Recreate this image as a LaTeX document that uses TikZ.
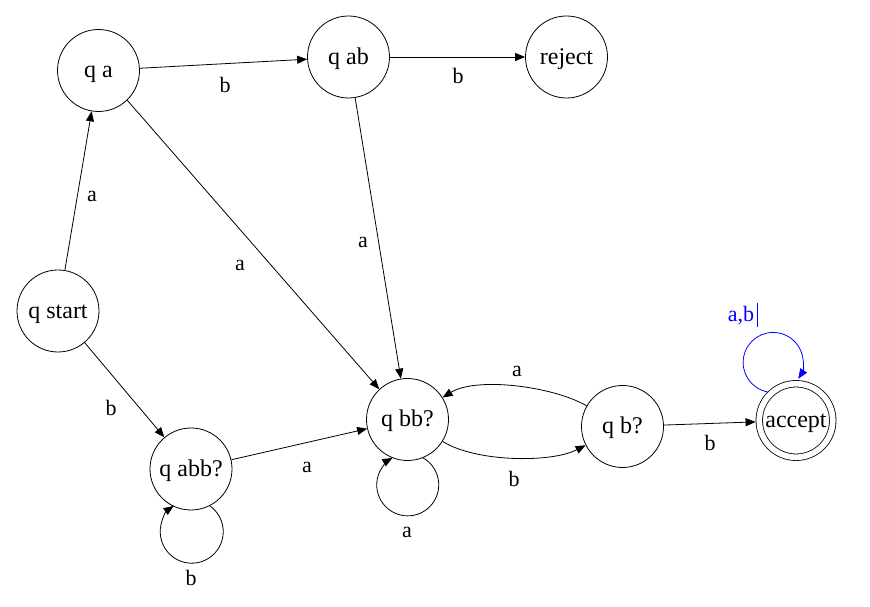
\documentclass[tikz,border=0pt]{standalone}
\usepackage{fontspec}
\setmainfont{Liberation Serif}
\usetikzlibrary{arrows.meta}
\definecolor{loopblue}{RGB}{0,0,255}
\tikzset{
  x=1pt, y=1pt,
  state/.style={draw, circle, line width=0.8pt, minimum size=82pt, inner sep=0pt,
                text height=17pt, text depth=2.5pt,
                font=\fontsize{24}{28}\selectfont},
  accstate/.style={draw, circle, line width=0.8pt, minimum size=73.5pt, inner sep=0pt,
                double, double distance=5.7pt, outer sep=3.7pt,
                text height=17pt, text depth=2.5pt,
                font=\fontsize{24}{28}\selectfont},
  arr/.style={-{Triangle[length=10pt,width=8pt]}, line width=0.8pt},
  lbl/.style={inner sep=0pt, font=\fontsize{22}{26}\selectfont},
}
\begin{document}
\begin{tikzpicture}
\useasboundingbox (0,0) rectangle (870,607);
% states
\node[state] (qa)   at (98.5,536.5) {q a};
\node[state] (qab)  at (348.5,550)  {q ab};
\node[state] (rej)  at (566.5,550)  {reject};
\node[state] (qs)   at (58,296)     {q start};
\node[state] (qabb) at (191,138)    {q abb?};
\node[state] (qbb)  at (407.5,187.5){q bb?};
\node[state] (qb)   at (622.5,180.5){q b?};
\node[accstate] (acc) at (796,186.5) {accept};
% transitions
\draw[arr] (qs) -- (qa);
\draw[arr] (qa) -- (qab);
\draw[arr] (qab) -- (rej);
\draw[arr] (qa.-46) -- (qbb.133);
\draw[arr] (qab) -- (qbb);
\draw[arr] (qs) -- (qabb);
\draw[arr] (qabb) -- (qbb);
\draw[arr] (qbb.-32) to[out=-32, in=-153, looseness=0.7] (qb.-153);
\draw[arr] (qb.150) to[out=150, in=32, looseness=0.7] (qbb.32);
\draw[arr] (qb) -- (acc);
\draw[arr] (qbb.-68) arc[start angle=60.5, end angle=-240.5, radius=31];
\draw[arr] (qabb.-63) arc[start angle=55, end angle=-235, radius=31.5];
\draw[arr, loopblue] (acc.135) arc[start angle=259, end angle=-33, radius=30];
% labels
\node[lbl] (l1)  at (92,411)  {a};
\node[lbl] (l2)  at (225,522) {b};
\node[lbl] (l3)  at (458,531) {b};
\node[lbl] (l4)  at (240,342) {a};
\node[lbl] (l5)  at (363,365) {a};
\node[lbl] (l6)  at (111,199) {b};
\node[lbl] (l7)  at (307,140) {a};
\node[lbl] (l8)  at (514,128) {b};
\node[lbl] (l9)  at (517,236) {a};
\node[lbl] (l10) at (710,164) {b};
\node[lbl] (l11) at (407,75)  {a};
\node[lbl] (l12) at (191,29)  {b};
\node[lbl, text=loopblue] (l13) at (741,291) {a,b};
\coordinate (curtop) at (757,304);
\coordinate (curbot) at (757,280);
\draw[loopblue, line width=0.8pt] (curtop) -- (curbot);
\end{tikzpicture}
\end{document}
